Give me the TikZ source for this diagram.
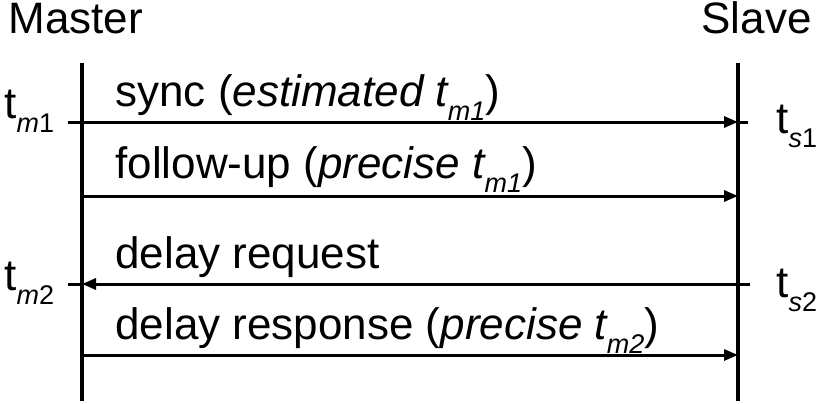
\documentclass[tikz,border=0pt]{standalone}
\usepackage{fontspec}
\setmainfont{Liberation Sans}
\usetikzlibrary{arrows.meta}
\newcommand{\tsub}[1]{\raisebox{-0.32em}{\fontsize{13.5}{13.5}\selectfont #1}}

\begin{document}
\begin{tikzpicture}[x=0.5pt, y=0.5pt, font=\fontsize{22}{26}\selectfont,
	lifeline/.style={line width=1.9pt},
	msg/.style={line width=1.5pt, -{Triangle[length=7pt, width=5.5pt]}},
	tickmark/.style={line width=1.5pt},
	lbl/.style={inner sep=0pt, anchor=base west}]
%			\draw[help lines] (0,0) grid (820,403);
			\useasboundingbox (0,0) rectangle (820,403);
			\coordinate (master-top) at (82,340);
			\coordinate (master-bottom) at (82,2);
			\coordinate (slave-top) at (738,340);
			\coordinate (slave-bottom) at (738,2);
			\coordinate (m1-tick) at (68,281);
			\coordinate (s1) at (738,281);
			\coordinate (s1-tick) at (748,281);
			\coordinate (fu-start) at (80,207);
			\coordinate (fu-end) at (738,207);
			\coordinate (s2-tick) at (750,119);
			\coordinate (m2) at (82,119);
			\coordinate (m2-tick) at (68,119);
			\coordinate (resp-start) at (80,48);
			\coordinate (resp-end) at (738,48);
			\node[lbl] (master-label) at (8,370) {Master};
			\node[lbl, anchor=base east] (slave-label) at (812,370) {Slave};
			\node[lbl] (tm1-label) at (4,285) {t\tsub{\textit{m}1}};
			\node[lbl] (tm2-label) at (4,113) {t\tsub{\textit{m}2}};
			\node[lbl] (ts1-label) at (776,270) {t\tsub{\textit{s}1}};
			\node[lbl] (ts2-label) at (776,106) {t\tsub{\textit{s}2}};
			\node[lbl] (sync-label) at (115,297) {sync (\textit{estimated t\tsub{m1}})};
			\node[lbl] (fu-label) at (115,225) {follow-up (\textit{precise t\tsub{m1}})};
			\node[lbl] (req-label) at (115,135) {delay request};
			\node[lbl] (resp-label) at (115,64) {delay response (\textit{precise t\tsub{m2}})};
			\draw[lifeline] (master-top) -- (master-bottom);
			\draw[lifeline] (slave-top) -- (slave-bottom);
			\draw[msg] (m1-tick) -- (s1);
			\draw[tickmark] (s1) -- (s1-tick);
			\draw[msg] (fu-start) -- (fu-end);
			\draw[msg] (s2-tick) -- (m2);
			\draw[tickmark] (m2) -- (m2-tick);
			\draw[msg] (resp-start) -- (resp-end);
		\end{tikzpicture}
\end{document}
